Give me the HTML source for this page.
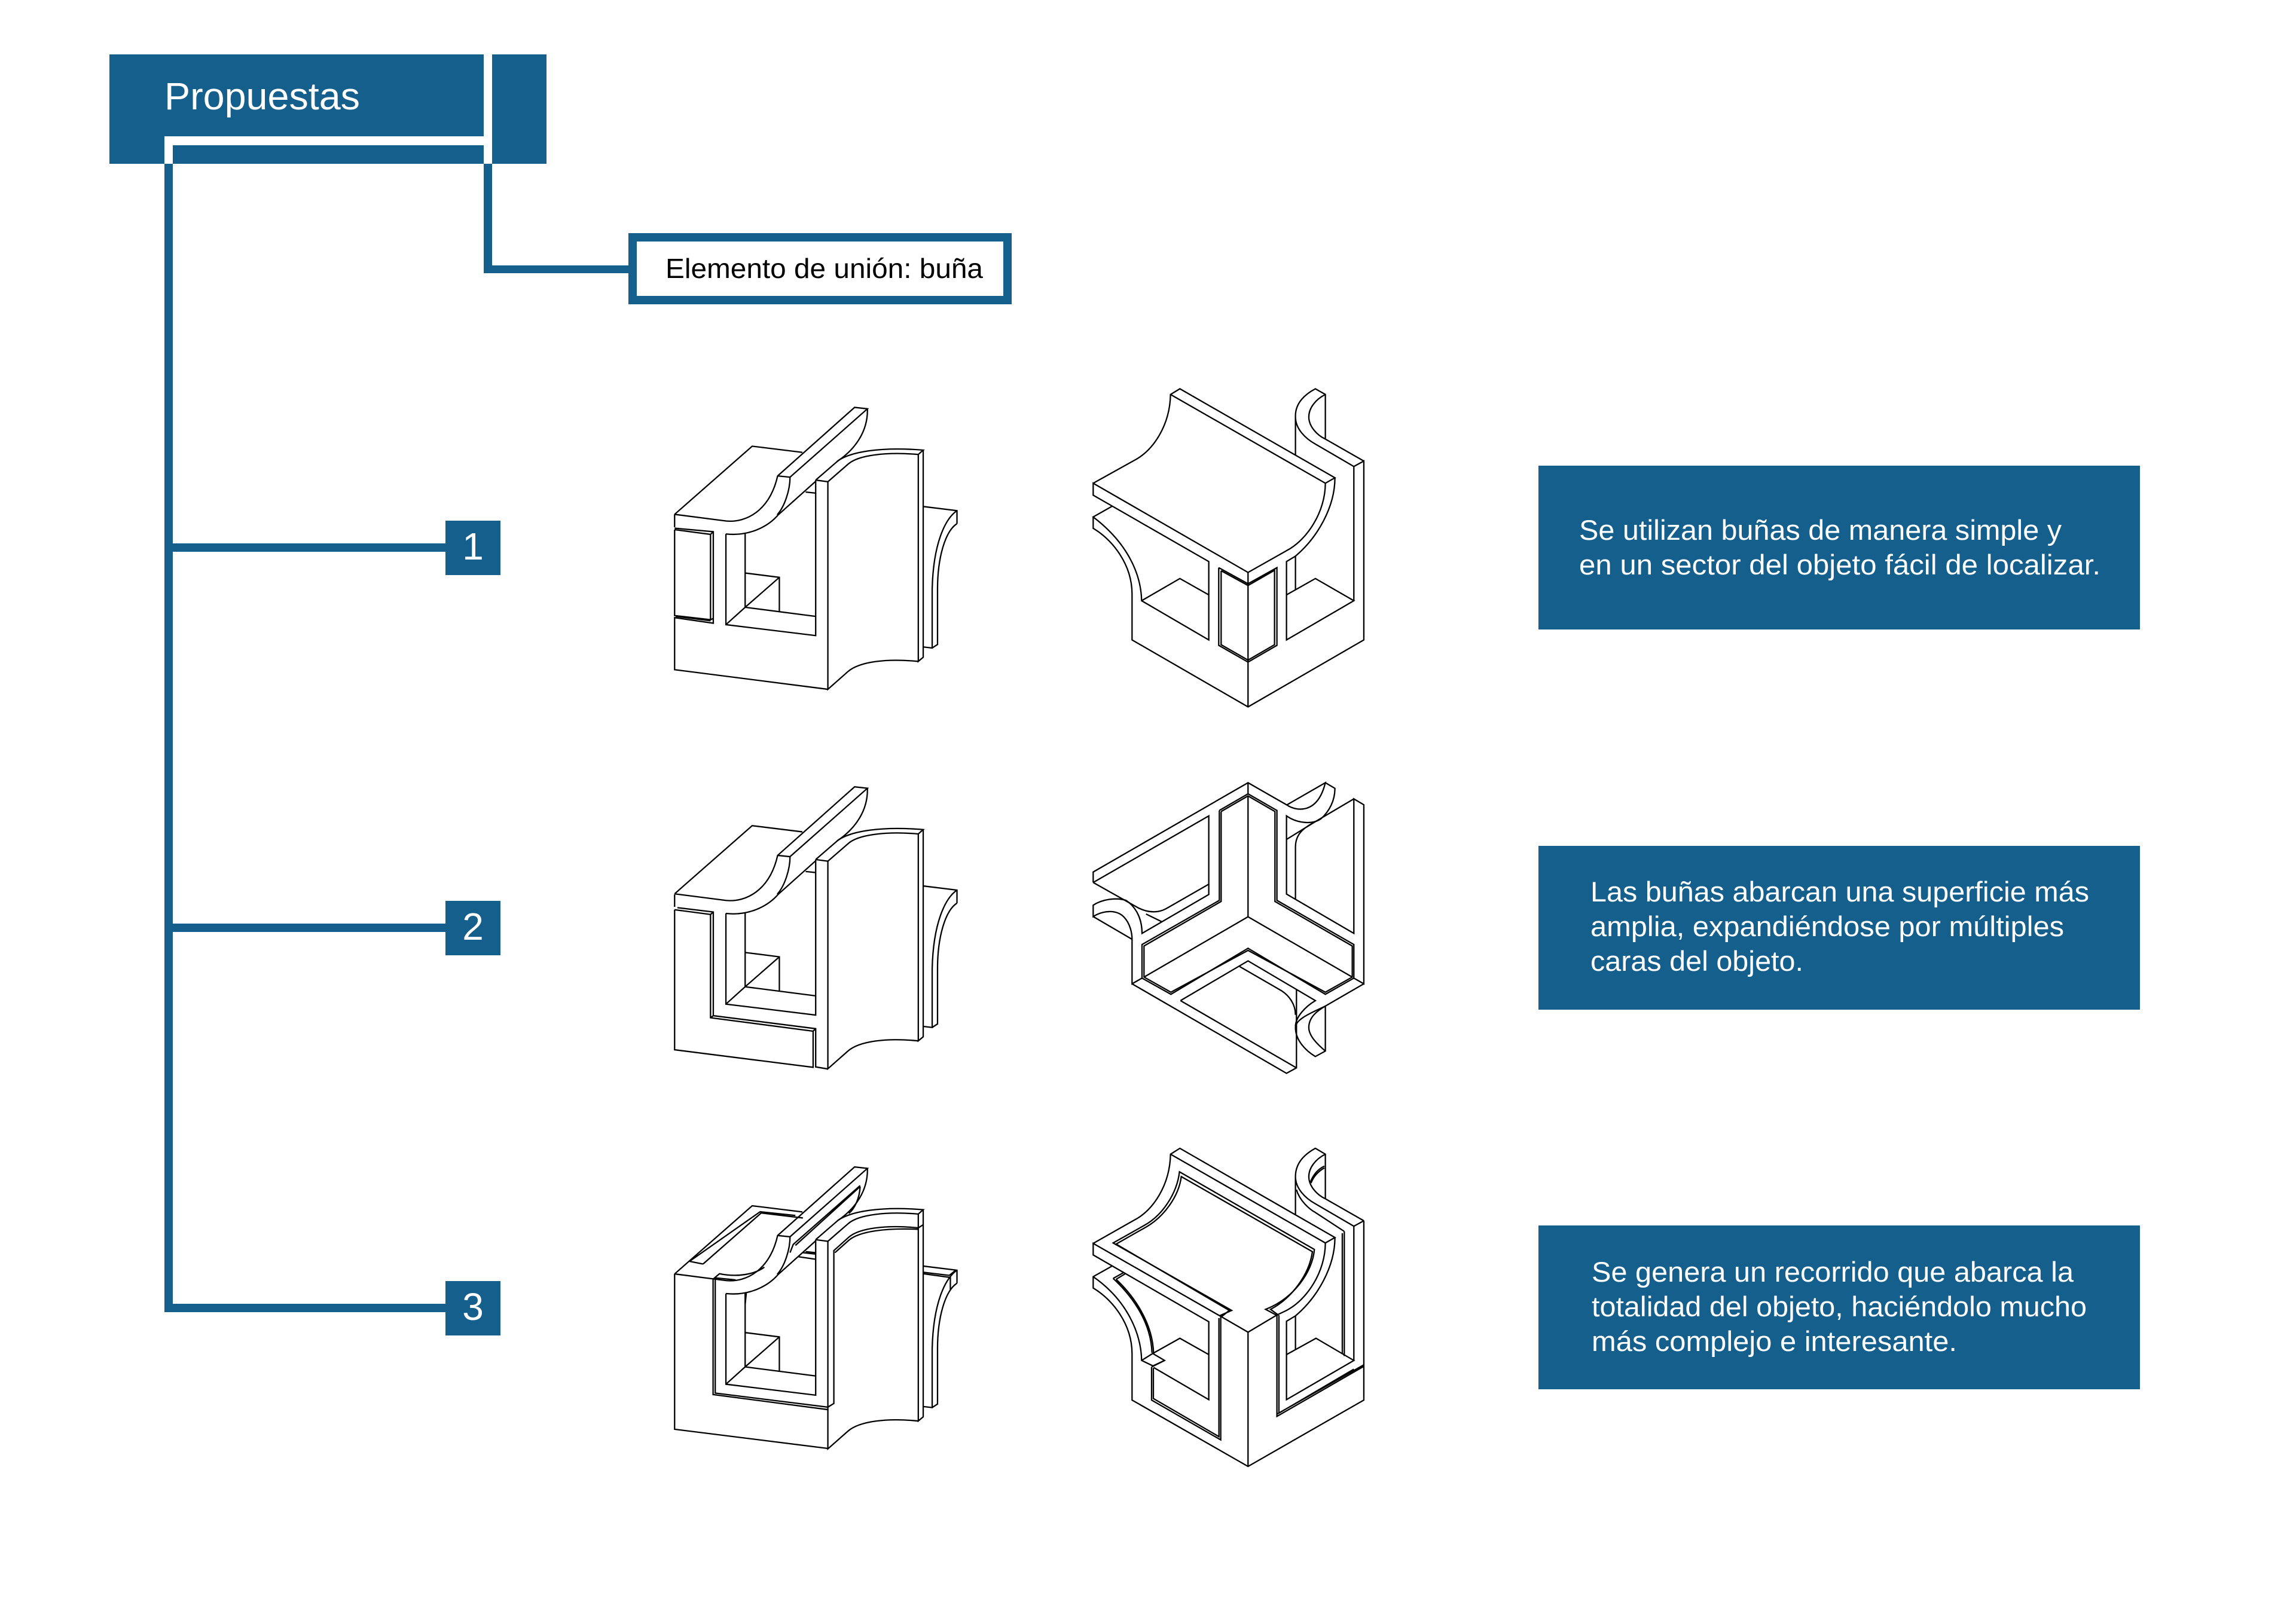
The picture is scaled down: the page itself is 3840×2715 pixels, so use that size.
<!DOCTYPE html>
<html><head><meta charset="utf-8"><title>Propuestas</title>
<style>
html,body{margin:0;padding:0;background:#fff}
svg{display:block}
text{font-family:"Liberation Sans",sans-serif}
.d path,#lc path{fill:none;stroke:#000;stroke-width:2.3;vector-effect:non-scaling-stroke;stroke-linejoin:miter}
.t{fill:#fff;font-size:47px}
</style></head><body>
<svg xmlns="http://www.w3.org/2000/svg" width="3840" height="2715" viewBox="0 0 3840 2715">
<rect width="3840" height="2715" fill="#fff"/>
<defs>
<g id="lc">
<path d="M135 638L498 308L733 338"/>
<path d="M135 638L375 670C470 680 580 620 617 452L977 120L1037 127L675 458L617 452"/>
<path d="M1037 127C1040 230 985 320 895 382"/>
<path d="M675 458C675 520 650 600 615 640"/>
<path d="M375 733C480 745 570 700 620 640L795 478"/>
<path d="M795 472L852 480M795 472L900 378C960 335 1100 310 1298 327L1275 348C1130 335 1000 350 950 392L852 480"/>
<path d="M1275 348L1275 1350L1298 1330L1298 327"/>
<path d="M795 472L795 1225L375 1172L375 733"/>
<path d="M852 480L852 1485L945 1400C1000 1350 1130 1335 1275 1350"/>
<path d="M375 1172L465 1088L795 1132M465 730L465 1088M465 922L625 943L625 1108M465 1088L625 943M748 530L795 535"/>
<path d="M1298 600L1456 620L1456 683M1456 620C1400 660 1345 780 1340 1000L1340 1285L1298 1280M1456 683C1400 720 1365 850 1365 1000L1365 1268L1340 1285"/>
</g>
</defs>

<!-- header -->
<g fill="#155f8d">
<rect x="183" y="91" width="731" height="183"/>
<rect x="275" y="274" width="14" height="1921"/>
<rect x="809" y="274" width="14" height="183"/>
<rect x="809" y="444" width="243" height="13"/>
<rect x="1051" y="390" width="641" height="119"/>
<rect x="275" y="909" width="470" height="14"/>
<rect x="275" y="1545" width="470" height="14"/>
<rect x="275" y="2181" width="470" height="14"/>
<rect x="745" y="871" width="92" height="91"/>
<rect x="745" y="1507" width="92" height="91"/>
<rect x="745" y="2143" width="92" height="91"/>
<rect x="2573" y="779" width="1006" height="274"/>
<rect x="2573" y="1415" width="1006" height="274"/>
<rect x="2573" y="2050" width="1006" height="274"/>
</g>
<g fill="#fff">
<rect x="809" y="84" width="14" height="190"/>
<rect x="275" y="228" width="534" height="15"/>
<rect x="275" y="228" width="14" height="46"/>
<rect x="1065" y="404" width="613" height="91"/>
</g>

<text x="275" y="183" fill="#fff" font-size="64" textLength="327" lengthAdjust="spacingAndGlyphs">Propuestas</text>
<text x="1113" y="465" fill="#000" font-size="46" textLength="531" lengthAdjust="spacingAndGlyphs">Elemento de unión: buña</text>
<g fill="#fff" font-size="64" text-anchor="middle">
<text x="791" y="936">1</text>
<text x="791" y="1572">2</text>
<text x="791" y="2208">3</text>
</g>

<text class="t" x="2641" y="903" textLength="807" lengthAdjust="spacingAndGlyphs">Se utilizan buñas de manera simple y</text>
<text class="t" x="2641" y="961" textLength="872" lengthAdjust="spacingAndGlyphs">en un sector del objeto fácil de localizar.</text>
<text class="t" x="2660" y="1508" textLength="834" lengthAdjust="spacingAndGlyphs">Las buñas abarcan una superficie más</text>
<text class="t" x="2660" y="1566" textLength="792" lengthAdjust="spacingAndGlyphs">amplia, expandiéndose por múltiples</text>
<text class="t" x="2660" y="1624" textLength="356" lengthAdjust="spacingAndGlyphs">caras del objeto.</text>
<text class="t" x="2662" y="2144" textLength="806" lengthAdjust="spacingAndGlyphs">Se genera un recorrido que abarca la</text>
<text class="t" x="2662" y="2202" textLength="828" lengthAdjust="spacingAndGlyphs">totalidad del objeto, haciéndolo mucho</text>
<text class="t" x="2662" y="2260" textLength="611" lengthAdjust="spacingAndGlyphs">más complejo e interesante.</text>

<!-- L1 -->
<g class="d" transform="translate(1080,640) scale(.3575,.3455)">
<use href="#lc"/>
<path d="M135 638L135 700M135 705L316 722L316 1165L135 1138L135 1390L852 1485"/>
<path d="M135 712L303 735L303 1148L135 1128L135 712M303 735L316 722M303 1148L316 1142M140 1132L303 1153"/>
</g>

<!-- L2 -->
<g class="d" transform="translate(1080,1300) scale(.3575,.3455)">
<g transform="translate(0,-73)"><use href="#lc"/></g>
<path d="M135 568L135 628M148 632L316 653L316 1155L795 1218L795 1403L852 1413"/>
<path d="M135 642L303 665L303 1165L783 1230L783 1405L135 1320L135 642M303 665L316 653M303 1165L316 1155M783 1230L795 1218"/>
</g>

<!-- L3 -->
<g class="d" transform="translate(1080,1940) scale(.3575,.3455)">
<g transform="translate(0,-85)"><use href="#lc"/></g>
<path d="M135 553L135 1305L852 1398"/>
<path d="M205 492L535 252L700 270M268 505L540 258L735 282M205 492L268 505"/>
<path d="M315 578L315 1137L852 1210M325 572L325 1130L852 1198L880 1180L880 440L950 375C1000 330 1130 315 1275 330L1298 315"/>
<path d="M315 578L345 552C430 570 510 555 555 520M325 572L420 582"/>
<path d="M885 450L950 390C1000 345 1130 330 1275 337"/>
<path d="M1003 125L690 410L675 450M1003 130C1000 190 975 240 950 260M1003 130L700 415"/>
<path d="M735 450L795 457M715 470L795 482"/>
<path d="M1298 545L1420 560L1450 535M1298 552L1425 570L1425 610M1425 570L1425 630"/>
<path d="M465 650L470 650L465 700"/>
</g>

<!-- R1 -->
<g class="d" transform="translate(1800,630) scale(.3333,.364)">
<path d="M85 490L285 388C390 340 470 220 473 82L520 56L1298 465L1250 490L473 82"/>
<path d="M1250 490C1250 620 1160 750 1055 800L862 900L85 490L85 545L665 850L665 1210L328 1030C325 900 250 760 85 645L178 597"/>
<path d="M1298 465C1298 600 1210 740 1100 825L1055 850L1055 1210L1393 1030L1200 928L1055 1003M1100 825L1100 980"/>
<path d="M85 645L85 697C180 750 280 860 280 1000L280 1210L862 1518L1443 1210L1443 388L1393 413L1393 1030"/>
<path d="M328 1030L520 928L665 1003"/>
<path d="M1100 360L1100 180C1100 120 1150 80 1200 56L1250 82L1250 287L1443 388M1250 82C1200 105 1167 145 1167 185C1167 230 1210 270 1250 287M1100 185C1100 240 1150 285 1200 310L1393 413"/>
<path d="M862 900L862 1518"/>
<path d="M715 878L715 1235L862 1312L1007 1235L1007 878L862 952L715 878M727 892L727 1232L862 1303L995 1232L995 890L862 960L727 892"/>
</g>

<!-- R2 -->
<g class="d" transform="translate(1800,1290) scale(.3333,.3515)">
<path d="M85 530L85 480L862 55L1055 160C1100 190 1210 210 1250 55L1058 160"/>
<path d="M1250 55L1298 82C1298 140 1270 190 1230 225C1190 255 1110 250 1055 213L1055 585L1393 772L1393 132L1443 160L1443 1012L1393 985"/>
<path d="M1393 132L1200 240C1140 270 1100 300 1100 360L1100 610M1055 325L1200 240"/>
<path d="M85 530L665 213L665 587L330 772C330 690 290 640 250 615C200 600 130 610 85 638L85 692C130 665 200 655 240 695C270 725 280 770 280 800L280 1012L330 985"/>
<path d="M85 530L310 650C370 680 420 670 450 655L665 538M350 680L428 716M85 692L280 800"/>
<path d="M862 55L862 108M718 187L862 108L1007 187L1007 615L1393 825L1393 985L1250 1062L862 843L475 1062L330 985L330 825L718 615L718 187"/>
<path d="M727 192L862 118L997 192L997 620L1385 832L1385 980L1250 1052L862 853L475 1052L340 980L340 832L727 620L727 192"/>
<path d="M862 118L862 693L340 980M862 693L1385 980"/>
<path d="M280 1012L1055 1438L1105 1412L1105 1040M1443 1012L1250 1118C1180 1150 1100 1180 1100 1220C1100 1280 1150 1330 1200 1358L1250 1332L1250 1118"/>
<path d="M1167 1220C1167 1170 1210 1140 1250 1118M1167 1220C1167 1260 1210 1300 1250 1332"/>
<path d="M523 1092L1105 1412M523 1092L862 903L1200 1092C1150 1120 1100 1170 1100 1215M820 930L1030 1045C1070 1070 1100 1110 1100 1160"/>
</g>

<!-- R3 -->
<g class="d" transform="translate(1800,1910) scale(.3333,.364)">
<path d="M85 467L285 363C390 315 470 195 473 57L520 30L1298 440L1250 465L473 57"/>
<path d="M1250 465C1250 595 1160 725 1055 775L1005 797L862 875L730 805L85 467L85 520L665 827L665 1185L388 1037"/>
<path d="M1298 440C1298 575 1210 715 1100 800L1055 825L1055 1185L1393 1005L1203 903L1055 978M1100 800L1100 955"/>
<path d="M718 800L780 775L185 465L340 385C430 340 505 240 518 138L1195 495C1185 600 1090 720 950 770L1005 797"/>
<path d="M730 803L768 775L200 470L350 392C440 345 515 250 527 160L1185 505C1170 610 1080 720 975 770L1015 797"/>
<path d="M1007 797L1007 1262L1443 1032M1017 797L1017 1247L1393 1045M1443 1025L1010 1250"/>
<path d="M1443 363L1443 1187L862 1492L280 1187L280 975C280 835 180 725 85 672L85 620L178 572M85 620C250 725 325 875 328 1005L385 1030L443 1005L382 972"/>
<path d="M328 1005L380 975L520 903L665 978"/>
<path d="M378 1035L378 1187L725 1370L725 805M387 1040L387 1180L716 1355L716 810M378 1035L443 1005"/>
<path d="M185 628L240 600M185 628C270 700 375 820 380 970M200 632L245 607M200 632C285 705 385 830 388 975"/>
<path d="M862 875L862 1492"/>
<path d="M1393 388L1393 1005M1443 363L1393 388M1443 363L1250 262L1250 57L1200 30C1150 55 1100 95 1100 160L1100 335M1250 57C1200 80 1167 120 1167 160C1167 205 1210 245 1250 262M1100 160C1100 215 1150 260 1200 285L1393 388"/>
<path d="M1345 412L1345 985M1335 420L1335 975M1105 220C1120 270 1170 310 1200 325L1345 412M1245 112C1215 125 1190 150 1175 185M1245 120C1215 135 1190 160 1178 190"/>
</g>
</svg>
</body></html>
